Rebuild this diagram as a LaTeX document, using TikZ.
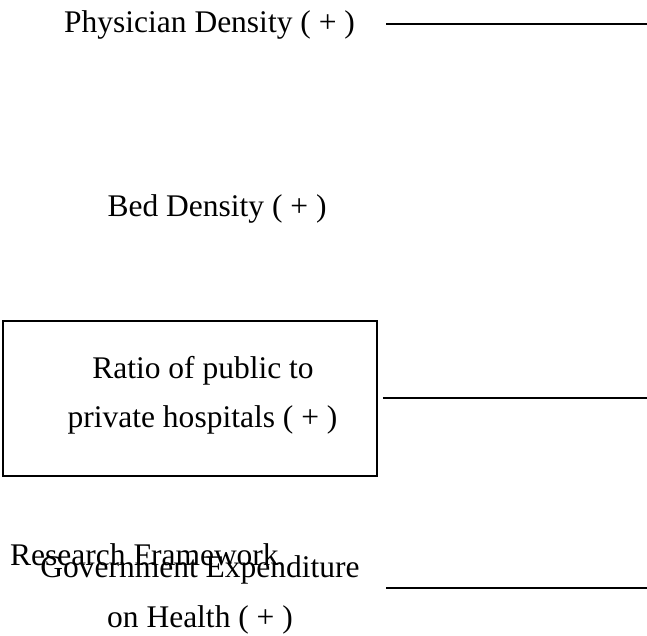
\documentclass[tikz,border=0pt]{standalone}
\usepackage{fontspec}
\setmainfont{Liberation Serif}
\begin{document}
\begin{tikzpicture}[x=1pt,y=-1pt,
  lbl/.style={inner sep=0pt,anchor=base,font=\fontsize{31.5}{36}\selectfont},
  conn/.style={line width=1.8pt},
  frame/.style={draw,line width=1.8pt,inner sep=0pt,minimum width=374pt,minimum height=155pt}]
\useasboundingbox (0,0) rectangle (647,635);
% texts
\node[lbl] (phys) at (209.5,32) {Physician Density ( + )};
\node[lbl] (bed) at (217,216) {Bed Density ( + )};
\node[frame] (box) at (190,398.5) {};
\node[lbl] (ratioA) at (203,378) {Ratio of public to};
\node[lbl] (ratioB) at (202.5,427) {private hospitals ( + )};
\node[lbl,anchor=base west] (title) at (10,565) {Research Framework};
\node[lbl] (govA) at (200,577) {Government Expenditure};
\node[lbl] (govB) at (200,627) {on Health ( + )};
% connector ends
\coordinate (p1) at (386,24);
\coordinate (q1) at (647,24);
\coordinate (q2) at (647,398);
\coordinate (p3) at (386,588);
\coordinate (q3) at (647,588);
\draw[conn] (p1) -- (q1);
\draw[conn] ([xshift=5pt]box.east |- q2) -- (q2);
\draw[conn] (p3) -- (q3);
\end{tikzpicture}
\end{document}
